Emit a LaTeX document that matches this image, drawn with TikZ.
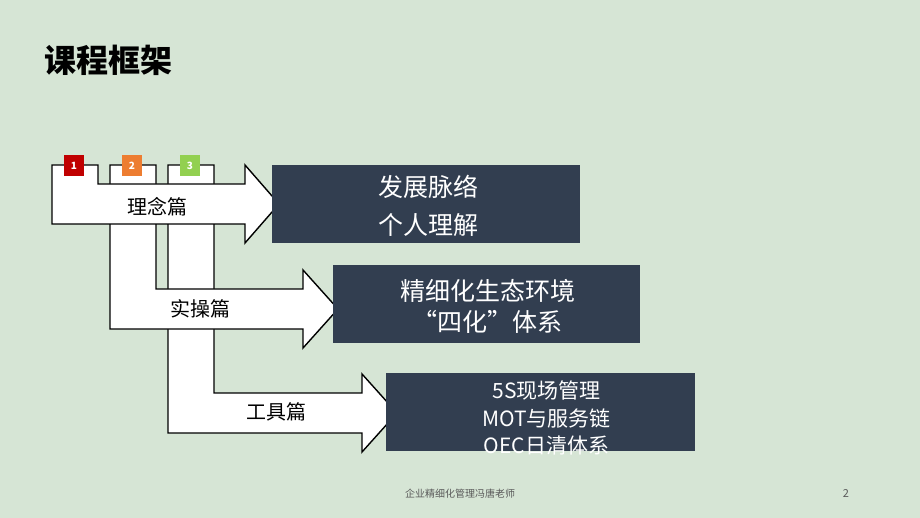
\documentclass[tikz,border=0pt]{standalone}
\usepackage{fontspec}
\newfontfamily\cjk{Noto Sans CJK SC}
\definecolor{bgGreen}{RGB}{214,229,213}
\definecolor{boxDark}{RGB}{50,62,80}
\definecolor{numRed}{RGB}{192,0,0}
\definecolor{numOrange}{RGB}{237,125,49}
\definecolor{numGreen}{RGB}{146,208,80}
\definecolor{footGray}{RGB}{90,90,90}
\begin{document}
\begin{tikzpicture}[x=1pt,y=-1pt,
  bentarrow/.style={draw=black,fill=white,line width=1.4pt,line join=miter},
  badge/.style={minimum width=20pt,minimum height=21pt,inner sep=0pt,text=white,font=\cjk\bfseries\fontsize{10}{10}\selectfont},
  part/.style={font=\cjk\fontsize{20}{24}\selectfont,text=black},
  panel/.style={fill=boxDark,minimum height=78pt,inner sep=0pt},
  ptext/.style={text=white,align=center}]
\def\sw{20}% half width of a shaft
\def\hw{39}% half width of a head
\def\hl{34}% length of a head

\fill[bgGreen] (0,0) rectangle (920,518);
\useasboundingbox (0,0) rectangle (920,518);

\node[font=\cjk\bfseries\fontsize{32}{36}\selectfont] (title) at (108,60) {课程框架};

% third arrow at the back, first arrow in front
\draw[bentarrow] (168,165) -- (214,165) -- (214,413-\sw) -- (362,413-\sw) -- (362,413-\hw)
  -- (362+\hl+1,413) -- (362,413+\hw) -- (362,413+\sw) -- (168,413+\sw) -- cycle;
\draw[bentarrow] (110,165) -- (156,165) -- (156,309-\sw) -- (303,309-\sw) -- (303,309-\hw)
  -- (303+\hl+1,309) -- (303,309+\hw) -- (303,309+\sw) -- (110,309+\sw) -- cycle;
\draw[bentarrow] (52,165) -- (98,165) -- (98,204-\sw) -- (245,204-\sw) -- (245,204-\hw)
  -- (245+\hl,204) -- (245,204+\hw) -- (245,204+\sw) -- (52,204+\sw) -- cycle;

\node[badge,fill=numRed] (n1) at (74,165.5) {1};
\node[badge,fill=numOrange] (n2) at (132,165.5) {2};
\node[badge,fill=numGreen] (n3) at (190,165.5) {3};

\node[part] (p1) at (157,207) {理念篇};
\node[part] (p2) at (200,309) {实操篇};
\node[part] (p3) at (276,412) {工具篇};

\node[panel,minimum width=308pt] (b1) at (426,204) {};
\node[panel,minimum width=307pt] (b2) at (486.5,304) {};
\node[panel,minimum width=309pt] (b3) at (540.5,412) {};

\node[ptext,font=\cjk\fontsize{25}{38}\selectfont] (t1) at ([xshift=2pt,yshift=-2pt]b1.center) {发展脉络\\个人理解};
\node[ptext,font=\cjk\fontsize{25}{31}\selectfont] (t2) at ([xshift=1pt,yshift=-2pt]b2.center) {精细化生态环境\\“四化”体系};
\node[ptext,font=\cjk\fontsize{21}{27.5}\selectfont] (t3) at ([xshift=6pt,yshift=-6pt]b3.center) {5S现场管理\\MOT与服务链\\OEC日清体系};

\node[font=\cjk\fontsize{10}{12}\selectfont,text=footGray] (foot) at (460,494) {企业精细化管理冯唐老师};
\node[font=\cjk\fontsize{11}{12}\selectfont,text=footGray] (page) at (846,494) {2};
\end{tikzpicture}
\end{document}
